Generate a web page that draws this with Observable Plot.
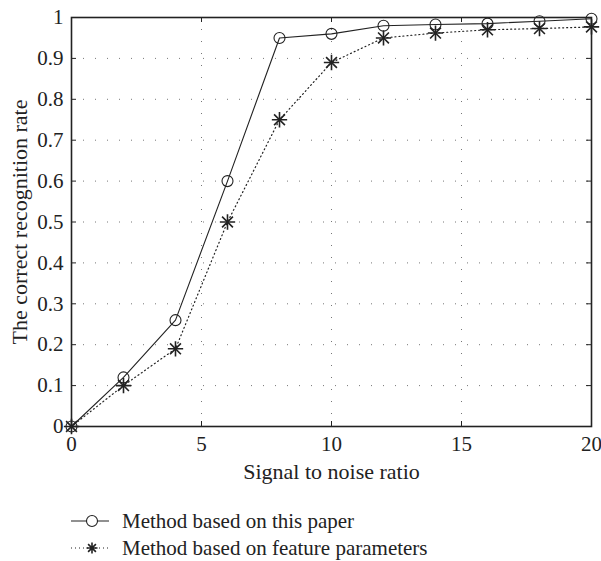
<!DOCTYPE html>
<html>
<head>
<meta charset="utf-8">
<script src="https://cdn.jsdelivr.net/npm/d3@7"></script>
<script src="https://cdn.jsdelivr.net/npm/@observablehq/plot@0.6"></script>
<style>
  body { margin: 0; background: #fff; font-family: "Liberation Serif", "Times New Roman", Times, "DejaVu Serif", serif; }
  #chart svg text { font-family: "Liberation Serif", "Times New Roman", Times, "DejaVu Serif", serif !important; font-variant: normal !important; }
  #legend { position: relative; height: 61px; color: #222; font-size: 21px; }
  .row { position: absolute; left: 71px; display: flex; align-items: center; height: 20px; }
  .row svg { width: 40px; height: 20px; margin-right: 11px; }
</style>
</head>
<body>
<div id="chart"></div>
<div id="legend"></div>
<script>
// Signal-to-noise ratio (dB) and recognition rate for both methods
const snr = [0, 2, 4, 6, 8, 10, 12, 14, 16, 18, 20];
const rateProposed = [0, 0.12, 0.26, 0.60, 0.95, 0.96, 0.98, 0.983, 0.985, 0.991, 0.997];
const rateFeature = [0, 0.10, 0.19, 0.50, 0.75, 0.89, 0.95, 0.962, 0.970, 0.973, 0.977];
const xTicks = [0, 5, 10, 15, 20];
const yTicks = [0, 0.1, 0.2, 0.3, 0.4, 0.5, 0.6, 0.7, 0.8, 0.9, 1];
const seriesNames = ["Method based on this paper", "Method based on feature parameters"];

const proposed = snr.map((s, i) => ({snr: s, rate: rateProposed[i]}));
const feature = snr.map((s, i) => ({snr: s, rate: rateFeature[i]}));

const W = 601, H = 500, mL = 71, mR = 10, mT = 17, mB = 74;
const innerW = W - mL - mR, innerH = H - mT - mB;
const tick = 5;
const ink = "#222";
const serif = "'Liberation Serif', 'Times New Roman', serif";

const chart = Plot.plot({
  width: W,
  height: H,
  marginLeft: mL,
  marginRight: mR,
  marginTop: mT,
  marginBottom: mB,
  style: {fontFamily: serif, fontSize: "21px", color: ink, background: "#fff"},
  x: {domain: [0, 20], ticks: xTicks, label: null},
  y: {domain: [0, 1], ticks: yTicks, label: null},
  marks: [
    Plot.gridX(xTicks.slice(1, -1), {stroke: "#777", strokeOpacity: 1, strokeDasharray: "1,11"}),
    Plot.gridY(yTicks.slice(1, -1), {stroke: "#777", strokeOpacity: 1, strokeDasharray: "1,11"}),
    // inward tick marks on all four sides
    Plot.tickX(xTicks, {x: d => d, stroke: ink, insetTop: innerH - tick}),
    Plot.tickX(xTicks, {x: d => d, stroke: ink, insetBottom: innerH - tick}),
    Plot.tickY(yTicks, {y: d => d, stroke: ink, insetRight: innerW - tick}),
    Plot.tickY(yTicks, {y: d => d, stroke: ink, insetLeft: innerW - tick}),
    Plot.frame({stroke: ink, strokeWidth: 1.6}),
    Plot.axisX(xTicks, {tickSize: 0, tickPadding: 10, fontSize: 21, fontFamily: serif, fill: ink, label: null}),
    Plot.axisY(yTicks, {tickSize: 0, tickPadding: 8, fontSize: 21, fontFamily: serif, fill: ink, label: null,
      tickFormat: d => String(+d.toFixed(1))}),
    Plot.text(["Signal to noise ratio"], {frameAnchor: "bottom", dy: 52, fontSize: 22, fontFamily: serif, fill: ink}),
    Plot.text(["The correct recognition rate"], {frameAnchor: "left", textAnchor: "middle", dx: -52, rotate: -90,
      fontSize: 22, fontFamily: serif, fill: ink}),
    // feature-parameter method: dotted line with asterisks
    Plot.line(feature, {x: "snr", y: "rate", stroke: ink, strokeWidth: 1.2, strokeDasharray: "1,3"}),
    Plot.dot(feature, {x: "snr", y: "rate", symbol: "plus", r: 5, stroke: ink, strokeWidth: 1.6}),
    Plot.dot(feature, {x: "snr", y: "rate", symbol: "times", r: 5, stroke: ink, strokeWidth: 1.6}),
    // proposed method: solid line with open circles
    Plot.line(proposed, {x: "snr", y: "rate", stroke: ink, strokeWidth: 1.1}),
    Plot.dot(proposed, {x: "snr", y: "rate", r: 5.5, stroke: ink, fill: "none", strokeWidth: 1.1})
  ]
});
document.getElementById("chart").appendChild(chart);

// Legend below the plot
const legend = document.getElementById("legend");
const samples = [
  `<line x1="0" x2="38" y1="10" y2="10" stroke="${ink}" stroke-width="1.1"/><circle cx="21" cy="10" r="5.5" fill="#fff" stroke="${ink}" stroke-width="1.1"/>`,
  `<line x1="0" x2="38" y1="10" y2="10" stroke="${ink}" stroke-width="1.2" stroke-dasharray="1,3"/><path d="M21,4.5V15.5M15.5,10H26.5M17.1,6.1L24.9,13.9M24.9,6.1L17.1,13.9" stroke="${ink}" stroke-width="1.6"/>`
];
seriesNames.forEach((name, i) => {
  const row = document.createElement("div");
  row.className = "row";
  row.style.top = (11 + i * 27) + "px";
  row.innerHTML = `<svg viewBox="0 0 40 20">${samples[i]}</svg><span>${name}</span>`;
  legend.appendChild(row);
});
</script>
</body>
</html>
